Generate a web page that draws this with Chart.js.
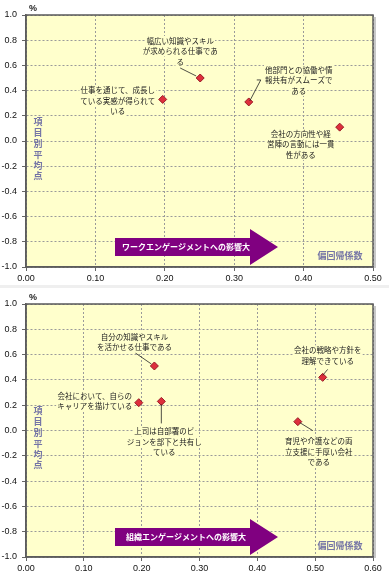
<!DOCTYPE html>
<html lang="ja">
<head>
<meta charset="UTF-8">
<script src="https://cdn.jsdelivr.net/npm/chart.js"></script>
<style>
  body { margin: 0; background: #fff; width: 389px; }
  canvas { display: block; }
  .sep { height: 3px; background: #efefef; }
</style>
</head>
<body>
<canvas id="chartTop" width="389" height="285"></canvas>
<div class="sep"></div>
<canvas id="chartBottom" width="389" height="290"></canvas>
<script>
// --- data: upper chart (work engagement) ---
const topItems = [
  ['仕事を通じて、成長し', 'ている実感が得られて', 'いる'],
  ['幅広い知識やスキル', 'が求められる仕事であ', 'る'],
  ['他部門との協働や情', '報共有がスムーズで', 'ある'],
  ['会社の方向性や経', '営陣の言動には一貫', '性がある']
];
const topCoef = [0.197, 0.251, 0.321, 0.452];
const topScore = [0.33, 0.50, 0.31, 0.11];
const topXMax = 0.5;

// --- data: lower chart (organisational engagement) ---
const bottomItems = [
  ['自分の知識やスキル', 'を活かせる仕事である'],
  ['会社において、自らの', 'キャリアを描けている'],
  ['上司は自部署のビ', 'ジョンを部下と共有し', 'ている'],
  ['会社の戦略や方針を', '理解できている'],
  ['育児や介護などの両', '立支援に手厚い会社', 'である']
];
const bottomCoef = [0.222, 0.195, 0.234, 0.513, 0.470];
const bottomScore = [0.51, 0.22, 0.23, 0.42, 0.07];
const bottomXMax = 0.6;

const yMin = -1, yMax = 1, yStep = 0.2, xStep = 0.1;

// label layout (pixel offsets from the point): text centre, first line, leader line
const topLayout = [
  { dx: -45, dy: -9 },
  { dx: -20, dy: -37, lead: [[-4, -2], [-20, -10]] },
  { dx: 50, dy: -32, lead: [[1, -1], [12, -22], [8, -22]] },
  { dx: -39, dy: 7 }
];
const bottomLayout = [
  { dx: -20, dy: -29, lead: [[-3, -2], [-19, -13]] },
  { dx: -44, dy: -7 },
  { dx: 3, dy: 30, lead: [[0, 3], [0, 22]] },
  { dx: 5, dy: -27, lead: [[0, -2], [5, -8]] },
  { dx: 21, dy: 20, lead: [[2, 1], [15, 9]] }
];

const PLOT_BG = '#ffffcc';
const LABEL_FONT = '7.5px "Noto Sans CJK JP", sans-serif';
const NOTE_COLOR = '#7474a6';

function makeChart(id, items, xs, ys, xMax, layout, arrowText, axisHeight, padTop) {
  const ctx = document.getElementById(id).getContext('2d');
  const points = xs.map((x, i) => ({ x: x, y: ys[i] }));

  const decor = {
    id: 'decor',
    beforeDraw(chart) {
      const a = chart.chartArea, c = chart.ctx;
      c.save();
      c.fillStyle = PLOT_BG;
      c.fillRect(a.left, a.top, a.right - a.left, a.bottom - a.top);
      c.restore();
    },
    beforeDatasetsDraw(chart) {
      const a = chart.chartArea, c = chart.ctx;
      c.save();
      // frame with a soft shadow
      c.strokeStyle = '#c8c8c8';
      c.lineWidth = 2;
      c.beginPath();
      c.moveTo(a.right + 2, a.top + 2);
      c.lineTo(a.right + 2, a.bottom + 1);
      c.stroke();
      c.strokeStyle = '#5a5a5a';
      c.lineWidth = 1.5;
      c.strokeRect(a.left, a.top, a.right - a.left, a.bottom - a.top);

      // % unit
      c.fillStyle = '#222';
      c.font = 'bold 9px "Liberation Sans", sans-serif';
      c.textAlign = 'left';
      c.textBaseline = 'middle';
      c.fillText('%', a.left + 3, a.top - 6);

      // vertical axis caption
      c.fillStyle = NOTE_COLOR;
      c.font = 'bold 9px "Noto Sans CJK JP", sans-serif';
      c.textAlign = 'center';
      '項目別平均点'.split('').forEach((ch, i) => {
        c.fillText(ch, a.left + 12, a.top + 107 + i * 10.8);
      });
      // horizontal axis caption
      c.fillText('偏回帰係数', a.right - 33, a.bottom - 11);

      // purple arrow
      const b = a.bottom, l = a.left;
      c.fillStyle = '#800080';
      c.beginPath();
      c.moveTo(l + 89, b - 29);
      c.lineTo(l + 224, b - 29);
      c.lineTo(l + 224, b - 38);
      c.lineTo(l + 252, b - 20);
      c.lineTo(l + 224, b - 2);
      c.lineTo(l + 224, b - 11);
      c.lineTo(l + 89, b - 11);
      c.closePath();
      c.fill();
      c.fillStyle = '#fff';
      c.font = 'bold 8px "Noto Sans CJK JP", sans-serif';
      c.fillText(arrowText, l + 160, b - 20);
      c.restore();
    },
    afterDatasetsDraw(chart) {
      const c = chart.ctx;
      const meta = chart.getDatasetMeta(0);
      c.save();
      c.font = LABEL_FONT;
      c.textAlign = 'center';
      c.textBaseline = 'middle';
      meta.data.forEach((pt, i) => {
        const lay = layout[i];
        if (lay.lead) {
          c.strokeStyle = '#222';
          c.lineWidth = 0.8;
          c.beginPath();
          lay.lead.forEach(([dx, dy], k) => {
            if (k === 0) c.moveTo(pt.x + dx, pt.y + dy);
            else c.lineTo(pt.x + dx, pt.y + dy);
          });
          c.stroke();
        }
        items[i].forEach((line, k) => {
          const tx = pt.x + lay.dx, ty = pt.y + lay.dy + k * 10.5;
          const w = c.measureText(line).width;
          c.fillStyle = PLOT_BG;
          c.fillRect(tx - w / 2 - 1, ty - 5, w + 2, 10);
          c.fillStyle = '#222';
          c.fillText(line, tx, ty);
        });
      });
      c.restore();
    }
  };

  return new Chart(ctx, {
    type: 'scatter',
    data: {
      datasets: [{
        data: points,
        pointStyle: 'rectRot',
        pointRadius: 4,
        pointHoverRadius: 4,
        backgroundColor: '#de2f3c',
        borderColor: '#9a1a25',
        borderWidth: 1
      }]
    },
    options: {
      responsive: false,
      animation: false,
      devicePixelRatio: 1,
      layout: { padding: { top: padTop, right: 16, left: 0, bottom: 0 } },
      plugins: { legend: { display: false }, tooltip: { enabled: false } },
      scales: {
        x: {
          type: 'linear',
          min: 0,
          max: xMax,
          afterFit: s => { s.height = axisHeight; },
          ticks: {
            stepSize: xStep,
            color: '#111',
            padding: 2,
            font: { family: '"Liberation Sans", sans-serif', size: 9 },
            callback: v => v.toFixed(2)
          },
          grid: { color: '#9a9a9a', lineWidth: 1, tickLength: 4, tickColor: '#666', tickBorderDash: [] },
          border: { color: '#666', width: 1.5, dash: [2, 2] }
        },
        y: {
          min: yMin,
          max: yMax,
          afterFit: s => { s.width = 26; },
          ticks: {
            stepSize: yStep,
            color: '#111',
            padding: 5,
            font: { family: '"Liberation Sans", sans-serif', size: 9 },
            callback: v => (Math.abs(v) < 1e-9 ? '0.0' : v.toFixed(1))
          },
          grid: { color: '#9a9a9a', lineWidth: 1, tickLength: 4, tickColor: '#666', tickBorderDash: [] },
          border: { color: '#666', width: 1.5, dash: [2, 2] }
        }
      }
    },
    plugins: [decor]
  });
}

makeChart('chartTop', topItems, topCoef, topScore, topXMax, topLayout,
  'ワークエンゲージメントへの影響大', 18, 15);
makeChart('chartBottom', bottomItems, bottomCoef, bottomScore, bottomXMax, bottomLayout,
  '組織エンゲージメントへの影響大', 21, 16);
</script>
</body>
</html>
